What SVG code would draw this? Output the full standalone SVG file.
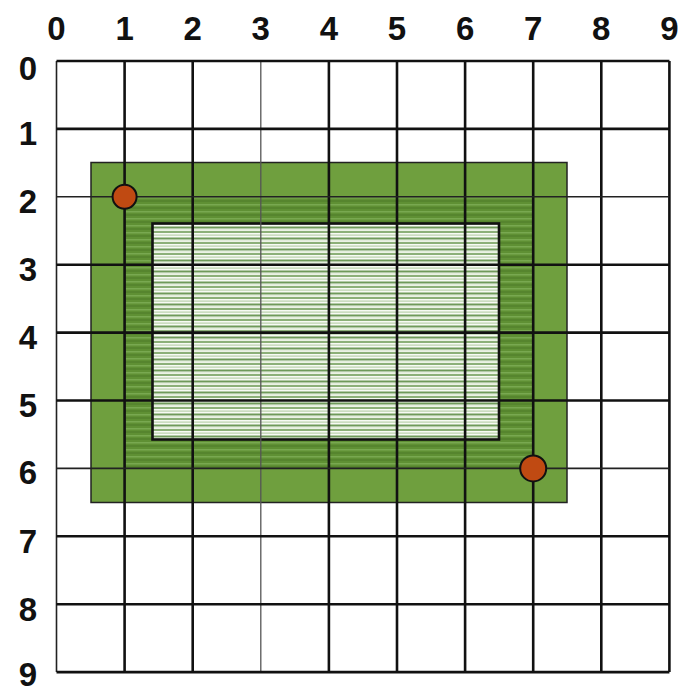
<svg xmlns="http://www.w3.org/2000/svg" width="679" height="695" viewBox="0 0 679 695">
<style>
.lbl{font-family:"Liberation Sans",Arial,sans-serif;font-weight:bold;font-size:33px;fill:#111;text-anchor:middle}
.g{stroke:#111;stroke-width:2.6;fill:none}
.gt{stroke:#222;stroke-width:1.6;fill:none}
.gg{stroke:#555;stroke-width:1.3;fill:none}
.dot{fill:#c04a12;stroke:#111;stroke-width:2}
</style>
<defs>
<pattern id="midStripe" patternUnits="userSpaceOnUse" width="10" height="7">
<rect width="10" height="7" fill="#5f9034"/>
<rect y="1" width="10" height="1.5" fill="#78a850"/>
<rect y="4.5" width="10" height="1" fill="#4d7a28"/>
</pattern>
<pattern id="innerStripe" patternUnits="userSpaceOnUse" width="10" height="11">
<rect width="10" height="11" fill="#f7faf4"/>
<rect y="0" width="10" height="2" fill="#8cb078"/>
<rect y="3.5" width="10" height="1.2" fill="#b9d1aa"/>
<rect y="6.5" width="10" height="2" fill="#6f9a5a"/>
<rect y="9.5" width="10" height="0.8" fill="#cfe0c4"/>
</pattern>
</defs>
<rect width="679" height="695" fill="#ffffff"/>
<g id="labels">
<text class="lbl" x="56.5" y="40">0</text>
<text class="lbl" x="124.6" y="40">1</text>
<text class="lbl" x="192.7" y="40">2</text>
<text class="lbl" x="260.8" y="40">3</text>
<text class="lbl" x="328.9" y="40">4</text>
<text class="lbl" x="397" y="40">5</text>
<text class="lbl" x="465.1" y="40">6</text>
<text class="lbl" x="533.2" y="40">7</text>
<text class="lbl" x="601.3" y="40">8</text>
<text class="lbl" x="669.4" y="40">9</text>
<text class="lbl" x="28" y="80">0</text>
<text class="lbl" x="28" y="145">1</text>
<text class="lbl" x="28" y="213">2</text>
<text class="lbl" x="28" y="281">3</text>
<text class="lbl" x="28" y="349">4</text>
<text class="lbl" x="28" y="417">5</text>
<text class="lbl" x="28" y="484">6</text>
<text class="lbl" x="28" y="553">7</text>
<text class="lbl" x="28" y="621">8</text>
<text class="lbl" x="28" y="686">9</text>
</g>
<g id="outer-area">
<rect x="91" y="162.5" width="476" height="340" fill="#6f9f3e" stroke="#222" stroke-width="1.5"/>
</g>
<g id="middle-band">
<rect x="124.6" y="196.8" width="408.6" height="271.6" fill="url(#midStripe)"/>
</g>
<g id="inner-area">
<rect x="152.5" y="223.5" width="346.5" height="216" fill="url(#innerStripe)" stroke="#111" stroke-width="2.6"/>
</g>
<g id="grid">
<line class="gt" x1="56.5" y1="61" x2="56.5" y2="672"/>
<line class="g" x1="124.6" y1="61" x2="124.6" y2="672"/>
<line class="g" x1="192.7" y1="61" x2="192.7" y2="672"/>
<line class="gg" x1="260.8" y1="61" x2="260.8" y2="672"/>
<line class="g" x1="328.9" y1="61" x2="328.9" y2="672"/>
<line class="g" x1="397" y1="61" x2="397" y2="672"/>
<line class="g" x1="465.1" y1="61" x2="465.1" y2="672"/>
<line class="g" x1="533.2" y1="61" x2="533.2" y2="672"/>
<line class="g" x1="601.3" y1="61" x2="601.3" y2="672"/>
<line class="g" x1="669.4" y1="61" x2="669.4" y2="672"/>
<line class="g" x1="56.5" y1="61" x2="669.4" y2="61"/>
<line class="g" x1="56.5" y1="128.9" x2="669.4" y2="128.9"/>
<line class="gt" x1="56.5" y1="196.8" x2="669.4" y2="196.8"/>
<line class="g" x1="56.5" y1="264.7" x2="669.4" y2="264.7"/>
<line class="g" x1="56.5" y1="332.6" x2="669.4" y2="332.6"/>
<line class="g" x1="56.5" y1="400.5" x2="669.4" y2="400.5"/>
<line class="gt" x1="56.5" y1="468.4" x2="669.4" y2="468.4"/>
<line class="g" x1="56.5" y1="536.3" x2="669.4" y2="536.3"/>
<line class="g" x1="56.5" y1="604.2" x2="669.4" y2="604.2"/>
<line class="g" x1="56.5" y1="672.1" x2="669.4" y2="672.1"/>
</g>
<g id="points">
<circle id="p-1-2" class="dot" cx="124.6" cy="196.8" r="12"/>
<circle id="p-7-6" class="dot" cx="533.2" cy="468.4" r="13"/>
</g>
</svg>
